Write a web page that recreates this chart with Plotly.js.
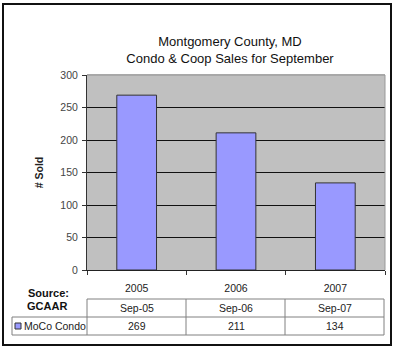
<!DOCTYPE html>
<html>
<head>
<meta charset="utf-8">
<script src="https://cdn.plot.ly/plotly-3.0.1.min.js"></script>
<style>html,body{margin:0;padding:0;background:#fff;}#chart{width:400px;height:358px;}</style>
</head>
<body>
<div id="chart"></div>
<script>
var categories = ['2005', '2006', '2007'];
var tableHeaders = ['Sep-05', 'Sep-06', 'Sep-07'];
var seriesName = 'MoCo Condo';
var sold = [269, 211, 134];

var L = 87, R = 385, T = 75, B = 270;
var W = R - L, H = B - T;
function px(x) { return (x - L) / W; }
function py(y) { return (B - y) / H; }

var font = 'Arial, "Liberation Sans", sans-serif';
var lineCol = '#808080';

var shapes = [
  {type:'rect', xref:'paper', yref:'paper', x0:px(3), x1:px(391), y0:py(4), y1:py(345), line:{color:'#111', width:2}},
  {type:'line', xref:'paper', yref:'paper', x0:0, x1:1, y0:1, y1:1, line:{color:'#a8a8a8', width:2}},
  {type:'line', xref:'paper', yref:'paper', x0:1, x1:1, y0:0, y1:1, line:{color:'#999', width:1}},
  {type:'line', xref:'paper', yref:'paper', x0:px(87), x1:px(384), y0:py(299), y1:py(299), line:{color:lineCol, width:1}},
  {type:'line', xref:'paper', yref:'paper', x0:px(12), x1:px(384), y0:py(317), y1:py(317), line:{color:lineCol, width:1}},
  {type:'line', xref:'paper', yref:'paper', x0:px(12), x1:px(384), y0:py(335), y1:py(335), line:{color:lineCol, width:1}},
  {type:'line', xref:'paper', yref:'paper', x0:px(12), x1:px(12), y0:py(317), y1:py(335), line:{color:lineCol, width:1}}
];
[87, 186, 285, 384].forEach(function (x) {
  shapes.push({type:'line', xref:'paper', yref:'paper', x0:px(x), x1:px(x), y0:py(299), y1:py(335), line:{color:lineCol, width:1}});
});
shapes.push({type:'rect', xref:'paper', yref:'paper', x0:px(15), x1:px(21), y0:py(323), y1:py(329), fillcolor:'#9999ff', line:{color:'#333', width:1}});

var annotations = [
  {xref:'paper', yref:'paper', x:px(48), y:py(293), text:'<b>Source:</b>', showarrow:false, font:{family:font, size:11, color:'#111'}, xanchor:'center', yanchor:'middle'},
  {xref:'paper', yref:'paper', x:px(47), y:py(306), text:'<b>GCAAR</b>', showarrow:false, font:{family:font, size:11, color:'#111'}, xanchor:'center', yanchor:'middle'},
  {xref:'paper', yref:'paper', x:px(22), y:py(326), text:seriesName, showarrow:false, font:{family:font, size:10.5, color:'#222'}, xanchor:'left', yanchor:'middle'}
];
categories.forEach(function (c, i) {
  annotations.push({xref:'x', yref:'paper', x:i, y:py(308), text:tableHeaders[i], showarrow:false, font:{family:font, size:10.5, color:'#222'}, xanchor:'center', yanchor:'middle'});
  annotations.push({xref:'x', yref:'paper', x:i, y:py(326), text:String(sold[i]), showarrow:false, font:{family:font, size:10.5, color:'#222'}, xanchor:'center', yanchor:'middle'});
});

var data = [{
  type:'bar', x:categories, y:sold, name:seriesName, width:0.4,
  marker:{color:'#9999ff', line:{color:'#333', width:1}},
  hoverinfo:'none'
}];

var layout = {
  width:400, height:358,
  margin:{l:L, r:400-R, t:T, b:358-B, pad:0},
  paper_bgcolor:'#fff', plot_bgcolor:'#c0c0c0',
  showlegend:false,
  title:{text:'Montgomery County, MD<br>Condo &amp; Coop Sales for September', font:{family:font, size:13, color:'#111'},
    xref:'paper', x:px(230), xanchor:'center', yref:'container', y:1-46/358, yanchor:'top'},
  xaxis:{type:'category', range:[-0.5, 2.5], showgrid:false, ticks:'outside', tickson:'boundaries', ticklen:4, tickcolor:'#333',
    showline:true, linecolor:'#222', linewidth:1, tickangle:0, ticklabelstandoff:8,
    tickfont:{family:font, size:10.5, color:'#222'}, fixedrange:true},
  yaxis:{range:[0,300], dtick:50, ticks:'outside', ticklen:4, tickcolor:'#333', showline:true, linecolor:'#333', linewidth:1,
    showgrid:true, gridcolor:'#111', gridwidth:1, zeroline:false, ticklabelstandoff:2,
    tickfont:{family:font, size:10.5, color:'#444'}, fixedrange:true,
    title:{text:'<b># Sold</b>', font:{family:font, size:10.5, color:'#222'}, standoff:14}},
  shapes:shapes,
  annotations:annotations
};

Plotly.newPlot('chart', data, layout, {displayModeBar:false, staticPlot:true});
</script>
</body>
</html>
